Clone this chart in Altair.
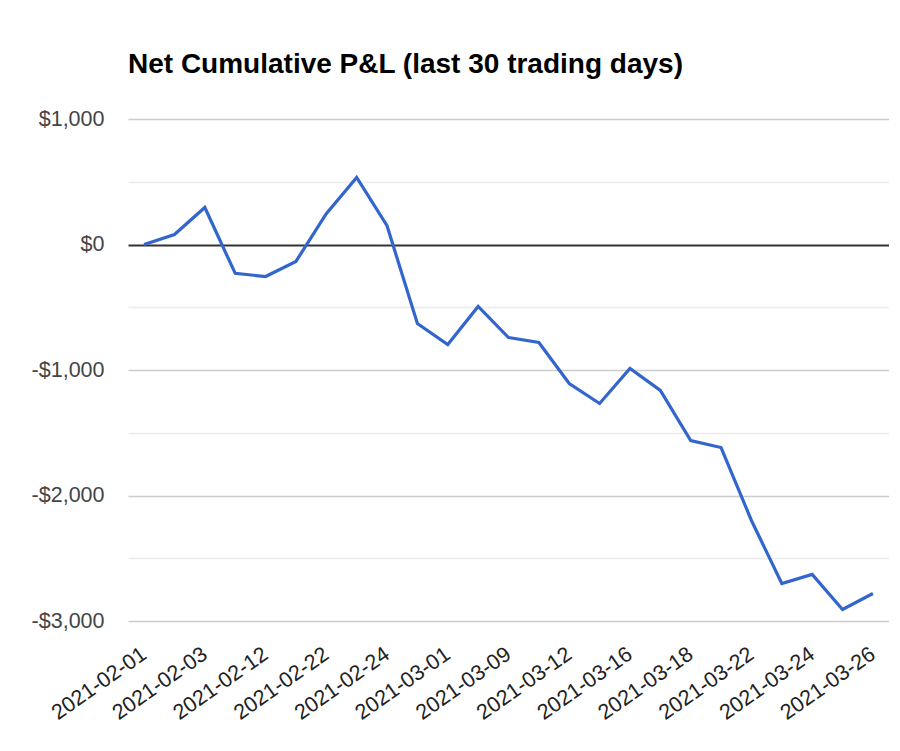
import altair as alt
import pandas as pd

dates = [
    "2021-02-01", "2021-02-02", "2021-02-03", "2021-02-05", "2021-02-12",
    "2021-02-17", "2021-02-22", "2021-02-23", "2021-02-24", "2021-02-25",
    "2021-03-01", "2021-03-03", "2021-03-09", "2021-03-10", "2021-03-12",
    "2021-03-15", "2021-03-16", "2021-03-17", "2021-03-18", "2021-03-19",
    "2021-03-22", "2021-03-23", "2021-03-24", "2021-03-25", "2021-03-26",
]
pnl = [
    0, 80, 295, -230, -255,
    -135, 245, 535, 150, -630,
    -797, -494, -741, -781, -1108,
    -1267, -988, -1163, -1562, -1618,
    -2199, -2701, -2629, -2908, -2781,
]
label_dates = [
    "2021-02-01", "2021-02-03", "2021-02-12", "2021-02-22", "2021-02-24",
    "2021-03-01", "2021-03-09", "2021-03-12", "2021-03-16", "2021-03-18",
    "2021-03-22", "2021-03-24", "2021-03-26",
]
y_ticks = [-3000, -2500, -2000, -1500, -1000, -500, 0, 500, 1000]

df = pd.DataFrame({"date": dates, "pnl": pnl})

FONT = "Liberation Sans"

chart = (
    alt.Chart(df)
    .mark_line(color="#3366cc", strokeWidth=3.2, strokeJoin="miter")
    .encode(
        x=alt.X(
            "date:O",
            sort=dates,
            scale=alt.Scale(type="point", padding=0.53),
            axis=alt.Axis(
                title=None,
                values=label_dates,
                labelAngle=325,
                labelAlign="right",
                labelBaseline="middle",
                labelPadding=31,
                labelFontSize=21.5,
                labelColor="#222222",
                labelFont=FONT,
                ticks=False,
                tickSize=0,
                domain=False,
                grid=False,
                labelOverlap=False,
            ),
        ),
        y=alt.Y(
            "pnl:Q",
            scale=alt.Scale(domain=[-3000, 1000], nice=False, zero=False),
            axis=alt.Axis(
                title=None,
                values=y_ticks,
                labelExpr="datum.value % 1000 === 0 ? (datum.value < 0 ? '-' : '') + '$' + format(abs(datum.value), ',') : ''",
                labelFontSize=21.5,
                labelColor="#444444",
                labelFont=FONT,
                labelPadding=24,
                ticks=False,
                tickSize=0,
                domain=False,
                grid=True,
                gridColor={
                    "condition": [
                        {"test": "datum.value === 0", "value": "#333333"},
                        {"test": "datum.value % 1000 === 0", "value": "#cccccc"},
                    ],
                    "value": "#ebebeb",
                },
                gridWidth={
                    "condition": {"test": "datum.value === 0", "value": 2},
                    "value": 1.5,
                },
                labelOverlap=False,
            ),
        ),
    )
    .properties(
        width=761,
        height=502,
        title=alt.TitleParams(
            "Net Cumulative P&L (last 30 trading days)",
            anchor="start",
            frame="group",
            font=FONT,
            fontSize=28,
            fontWeight="bold",
            color="#000000",
            offset=29,
        ),
        autosize=alt.AutoSizeParams(type="none"),
        padding={"left": 120, "top": 111, "right": 0, "bottom": 118},
        background="white",
    )
    .configure_view(stroke=None)
)

chart.save("out.html", embed_options={"renderer": "svg", "actions": False})
